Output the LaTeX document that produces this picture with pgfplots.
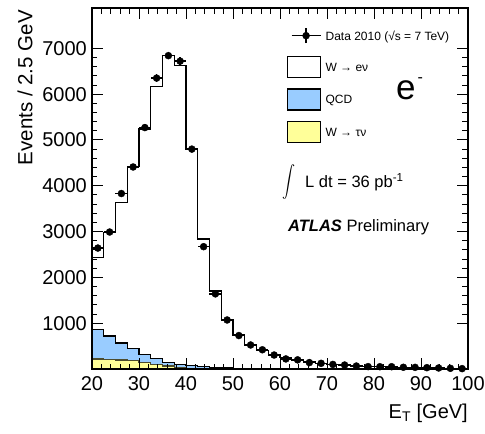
\documentclass[border=0pt]{standalone}
\usepackage{fontspec}
\setmainfont{Liberation Sans}
\newfontfamily\dejavu{DejaVu Sans}
\usepackage{graphicx}
\usepackage{pgfplots}
\pgfplotsset{compat=1.18}
\usepackage{pgfplotstable}
\definecolor{qcdblue}{RGB}{153,204,255}
\definecolor{tauyellow}{RGB}{255,255,153}

% data points: bin centre, events, half bin width, stat. error
\pgfplotstableread{
x y ex ey
21.25 2640 1.25 51
23.75 2990 1.25 55
26.25 3830 1.25 62
28.75 4410 1.25 66
31.25 5270 1.25 73
33.75 6350 1.25 80
36.25 6840 1.25 83
38.75 6720 1.25 82
41.25 4800 1.25 69
43.75 2670 1.25 52
46.25 1640 1.25 40
48.75 1070 1.25 33
51.25 730 1.25 27
53.75 524 1.25 23
56.25 420 1.25 20
58.75 305 1.25 17
61.25 220 1.25 15
63.75 200 1.25 14
66.25 140 1.25 12
68.75 124 1.25 11
71.25 100 1.25 10
73.75 87 1.25 9
76.25 65 1.25 8
78.75 52 1.25 7
81.25 50 1.25 7
83.75 50 1.25 7
86.25 38 1.25 6
88.75 36 1.25 6
91.25 29 1.25 5
93.75 22 1.25 5
96.25 15 1.25 4
98.75 8 1.25 3
}\datatable

% stacked histograms (cumulative): total = W->enu + QCD + W->taunu ; qcd = QCD + W->taunu ; tau = W->taunu
\pgfplotstableread{
x tot qcd tau
20 2440 860 218
22.5 2985 720 208
25 3640 570 196
27.5 4420 445 180
30 5240 320 140
32.5 6160 233 102
35 6840 146 65
37.5 6620 105 36
40 4800 70 18
42.5 2840 50 9
45 1700 35 5
47.5 1085 25 3
50 742 18 2
52.5 524 12 1
55 405 8 1
57.5 315 6 0
60 245 4 0
62.5 196 3 0
65 150 2 0
67.5 122 2 0
70 102 1 0
72.5 85 1 0
75 70 1 0
77.5 58 1 0
80 50 0 0
82.5 42 0 0
85 36 0 0
87.5 30 0 0
90 26 0 0
92.5 22 0 0
95 18 0 0
97.5 15 0 0
100 15 0 0
}\histtable

\begin{document}
\begin{tikzpicture}
\begin{axis}[
  at={(0,0)}, anchor=south west,
  scale only axis, width=376pt, height=361pt,
  xmin=20, xmax=100, ymin=0, ymax=7880,
  xtick={20,30,...,100}, ytick={1000,2000,...,7000},
  minor x tick num=4, minor y tick num=4,
  tick align=inside, xtick pos=both, ytick pos=both,
  major tick length=11pt, minor tick length=5.5pt,
  axis line style={line width=1.3pt},
  every tick/.append style={line width=0.9pt, black},
  axis on top,
  tick label style={font=\fontsize{20}{20}\selectfont, inner sep=0pt},
  xticklabel style={yshift=-7.5pt},
  yticklabel style={xshift=-5pt},
  /pgf/number format/assume math mode=true,
  /pgf/number format/1000 sep={},
  scaled ticks=false,
  every axis legend/.append style={draw=none, fill=none},
  legend style={at={(0.5186,0.9524)}, anchor=north west,
    inner sep=0pt, outer sep=0pt, row sep=10pt, column sep=4.4pt,
    cells={anchor=base west},
    nodes={inner sep=0pt, font=\fontsize{12}{14}\selectfont}},
  legend style={draw=none, fill=none},
]
\addplot[const plot, draw=black, line width=1.3pt, fill=white, forget plot]
  table[x=x, y=tot] {\histtable} \closedcycle;
\addplot[const plot, draw=black, line width=1.3pt, fill=qcdblue, forget plot]
  table[x=x, y=qcd] {\histtable} \closedcycle;
\addplot[const plot, draw=black!70!tauyellow, line width=1.1pt, fill=tauyellow, forget plot]
  table[x=x, y=tau] {\histtable} \closedcycle;
\addplot[only marks, mark=*, mark size=3.5pt, black, forget plot,
  error bars/.cd, x dir=both, x explicit, y dir=both, y explicit,
  error bar style={line width=1.3pt}, error mark=none]
  table[x=x, y=y, x error=ex, y error=ey] {\datatable};

\addlegendimage{legend image code/.code={
  \draw[black, line width=1.2pt] (4pt,4.5pt) -- (33pt,4.5pt);
  \draw[black, line width=1.2pt] (18.5pt,-3pt) -- (18.5pt,12pt);
  \fill[black] (18.5pt,4.5pt) circle (3.5pt);
  \path[draw=none] (0pt,-6pt) rectangle (33pt,15pt);}}
\addlegendentry{Data 2010 (√s = 7 TeV)}
\addlegendimage{legend image code/.code={
  \draw[black, line width=1.2pt, fill=white] (0pt,-6pt) rectangle (33pt,15pt);}}
\addlegendentry{W → eν}
\addlegendimage{legend image code/.code={
  \draw[black, line width=1.2pt, fill=qcdblue] (0pt,-6pt) rectangle (33pt,15pt);}}
\addlegendentry{QCD}
\addlegendimage{legend image code/.code={
  \draw[black, line width=1.2pt, fill=tauyellow] (0pt,-6pt) rectangle (33pt,15pt);}}
\addlegendentry{W → τν}
\end{axis}

\node[anchor=base west, inner sep=0pt, font=\fontsize{35}{35}\selectfont] at (304pt,269.7pt)
  {e\kern2pt\raisebox{17pt}{\fontsize{16}{16}\selectfont -}};
\node[anchor=south west, inner sep=0pt] at (190pt,169pt)
  {\resizebox*{13pt}{35pt}{$\displaystyle\int$}};
\node[anchor=base west, inner sep=0pt, font=\fontsize{16.5}{18}\selectfont] at (213pt,181.7pt)
  {L dt = 36 pb\textsuperscript{-1}};
\node[anchor=base west, inner sep=0pt, font=\fontsize{16.5}{18}\selectfont] at (196pt,137.3pt)
  {\textbf{\textit{ATLAS}} Preliminary};
\node[rotate=90, anchor=east, inner sep=0pt, font=\fontsize{20.5}{22}\selectfont] at (-67pt,359pt)
  {Events / 2.5 GeV};
\node[anchor=base east, inner sep=0pt, font=\fontsize{20}{22}\selectfont] at (376pt,-49.3pt)
  {E\textsubscript{T} [GeV]};

\pgfresetboundingbox
\path (-92pt,-65pt) rectangle (393pt,369pt);
\end{tikzpicture}
\end{document}
